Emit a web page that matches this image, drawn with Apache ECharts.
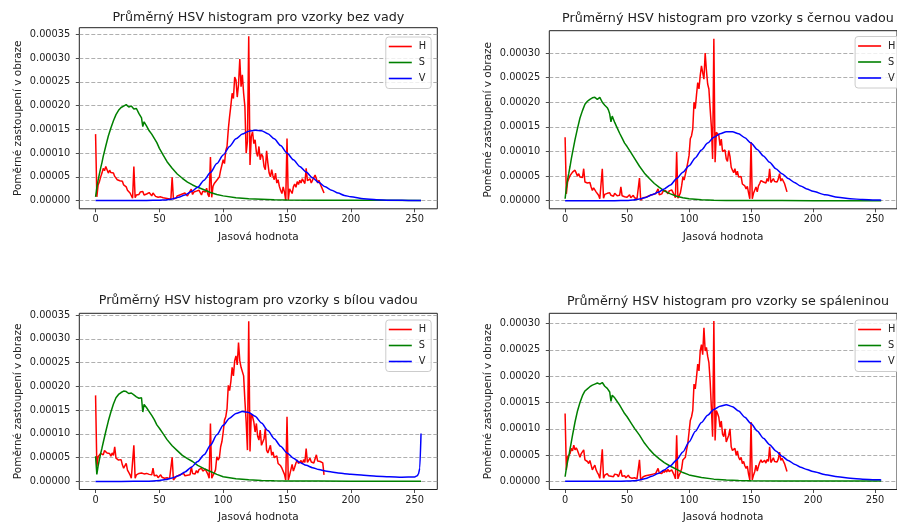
<!DOCTYPE html>
<html>
<head>
<meta charset="utf-8">
<script src="https://cdn.jsdelivr.net/npm/echarts@6/dist/echarts.min.js"></script>
<style>
  html, body { margin: 0; padding: 0; background: #fff; }
  #chart { width: 897px; height: 524px; }
</style>
</head>
<body>
<div id="chart"></div>
<script>
// Average HSV histograms (relative share of pixels per channel value).
// Values below are in units of 1e-5.

// Hue channel, values 0..179
const hueBezVady = [
  14.0, 0.8, 3.3, 4.0, 5.0, 5.8, 6.8, 6.3, 7.2, 6.5,
  5.8, 6.4, 5.9, 5.6, 5.8, 5.1, 5.4, 4.4, 4.8, 4.2,
  3.9, 4.1, 3.3, 3.6, 2.9, 2.2, 2.5, 1.6, 1.2, 0.5,
  7.2, 0.6, 1.2, 1.6, 1.3, 1.8, 1.4, 1.9, 1.2, 1.6,
  1.4, 1.1, 1.7, 1.3, 1.0, 1.6, 1.2, 0.9, 1.1, 0.7,
  1.0, 0.8, 1.2, 0.6, 0.9, 0.5, 0.8, 0.4, 0.7, 0.3,
  4.9, 0.4, 0.8, 0.5, 1.0, 0.7, 1.2, 0.9, 1.4, 1.0,
  1.6, 1.2, 1.0, 1.5, 1.1, 2.4, 1.3, 1.8, 1.4, 2.0,
  1.6, 2.2, 1.7, 1.2, 2.0, 2.4, 1.8, 2.6, 1.3, 0.8,
  9.2, 0.7, 3.0, 3.6, 3.2, 4.3, 4.0, 5.0, 6.4, 7.5,
  8.6, 7.8, 10.5, 11.4, 15.0, 17.7, 20.0, 22.6, 21.5, 26.0,
  25.4, 21.8, 24.4, 29.8, 24.0, 26.5, 22.6, 19.8, 10.0, 12.5,
  34.6, 7.5, 13.5, 14.5, 12.0, 12.8, 10.2, 9.3, 11.4, 8.6,
  9.8, 9.3, 7.2, 6.5, 10.5, 7.9, 5.8, 5.0, 6.5, 5.2,
  4.4, 5.8, 3.7, 4.4, 3.0, 2.2, 1.5, 2.9, 1.8, 0.1,
  13.1, 0.1, 2.5, 2.2, 1.5, 2.9, 3.5, 2.8, 4.0, 3.4,
  4.3, 3.7, 4.6, 4.4, 3.6, 6.8, 4.2, 3.8, 4.6, 3.7,
  4.3, 4.0, 5.4, 4.6, 3.7, 4.3, 3.5, 2.9, 3.3, 1.6
];
const hueCernaVada = [
  12.9, 1.4, 3.8, 4.5, 5.1, 5.1, 5.8, 5.4, 6.2, 5.6,
  5.0, 5.5, 4.8, 5.1, 4.7, 6.5, 3.8, 4.2, 3.6, 3.4,
  3.7, 2.8, 2.1, 2.6, 2.5, 1.8, 1.4, 1.1, 0.4, 0.6,
  6.5, 0.5, 1.3, 1.0, 1.5, 1.2, 1.6, 1.1, 1.3, 0.9,
  1.5, 1.2, 1.0, 1.4, 1.1, 2.8, 1.0, 1.2, 0.8, 1.1,
  0.7, 1.0, 1.2, 0.6, 0.9, 1.1, 0.6, 0.8, 0.4, 0.7,
  4.6, 0.1, 0.4, 0.6, 0.3, 0.7, 0.5, 0.9, 0.7, 1.1,
  0.8, 1.3, 1.0, 1.4, 1.1, 2.4, 1.2, 1.6, 1.4, 1.9,
  1.5, 2.1, 1.7, 1.4, 2.0, 1.6, 2.2, 1.8, 1.2, 0.6,
  9.9, 0.5, 1.0, 1.6, 3.0, 4.8, 4.2, 4.6, 6.5, 7.8,
  9.2, 12.6, 13.2, 14.6, 20.0, 18.7, 21.5, 24.0, 22.7, 25.4,
  27.4, 26.0, 24.7, 30.0, 26.5, 23.7, 22.7, 18.7, 15.0, 8.5,
  32.9, 7.8, 13.9, 14.2, 13.3, 11.2, 12.5, 10.0, 9.9, 10.3,
  8.5, 8.0, 10.2, 9.0, 6.8, 6.2, 5.7, 6.5, 5.2, 6.0,
  4.8, 4.5, 4.9, 3.4, 3.8, 3.0, 2.4, 2.9, 1.6, 0.4,
  11.9, 0.4, 1.5, 1.8, 2.8, 1.8, 3.0, 3.5, 4.1, 3.7,
  3.8, 4.2, 3.6, 4.5, 3.9, 6.5, 3.7, 3.8, 4.5, 3.9,
  4.2, 3.8, 4.4, 5.5, 4.0, 4.5, 4.1, 3.5, 3.8, 1.8
];
const hueBilaVada = [
  18.1, 3.1, 5.2, 4.8, 5.9, 6.3, 5.6, 6.5, 6.9, 6.0,
  6.4, 5.9, 5.3, 6.0, 5.5, 7.3, 4.9, 5.2, 4.5, 4.2,
  4.6, 3.5, 2.8, 3.2, 3.8, 2.4, 1.9, 1.4, 0.7, 1.0,
  7.6, 0.7, 1.4, 1.2, 1.7, 1.3, 1.8, 1.4, 1.6, 1.2,
  1.7, 1.3, 1.5, 1.1, 1.4, 2.8, 1.2, 0.9, 1.3, 0.8,
  1.1, 1.4, 0.9, 1.2, 0.7, 1.0, 0.8, 1.1, 0.6, 0.8,
  5.1, 0.3, 0.7, 1.0, 0.8, 1.3, 1.0, 1.5, 1.1, 1.7,
  1.2, 1.6, 1.3, 1.7, 1.4, 3.1, 1.7, 2.0, 1.6, 2.3,
  1.8, 2.5, 2.1, 2.8, 2.2, 1.9, 2.6, 2.4, 1.5, 0.7,
  12.2, 0.7, 1.3, 1.8, 2.5, 5.2, 4.5, 5.0, 7.3, 8.4,
  10.4, 12.9, 13.6, 15.3, 20.2, 19.1, 21.0, 24.0, 22.2, 25.4,
  26.4, 24.5, 29.2, 25.4, 24.0, 23.6, 22.2, 17.0, 12.5, 6.6,
  33.7, 6.3, 14.2, 13.6, 12.5, 10.4, 12.2, 9.5, 8.7, 10.8,
  7.6, 8.3, 9.0, 11.1, 6.6, 6.0, 6.3, 7.6, 5.5, 6.2,
  5.0, 4.9, 5.4, 3.8, 4.2, 3.3, 2.8, 3.2, 1.5, 0.3,
  13.6, 0.3, 1.3, 1.7, 3.6, 2.2, 3.0, 3.9, 4.5, 3.8,
  4.0, 4.4, 3.7, 4.6, 4.0, 6.9, 4.0, 4.2, 4.9, 4.1,
  4.5, 3.9, 4.8, 5.6, 4.3, 4.7, 4.2, 3.8, 3.9, 1.4
];
const hueSpalenina = [
  12.9, 2.2, 4.7, 4.5, 5.3, 6.3, 5.8, 6.9, 6.0, 6.4,
  5.9, 5.6, 4.6, 5.3, 5.0, 6.0, 4.1, 4.4, 3.8, 3.4,
  4.0, 3.1, 2.2, 2.7, 3.1, 2.2, 1.7, 1.3, 0.6, 0.9,
  6.1, 0.6, 1.2, 1.0, 1.5, 1.1, 1.4, 1.0, 1.3, 0.9,
  1.4, 1.1, 1.3, 0.9, 1.2, 2.2, 1.0, 0.8, 1.1, 0.7,
  1.0, 1.2, 0.8, 1.0, 0.6, 0.9, 0.7, 0.9, 0.5, 0.7,
  4.1, 0.3, 0.6, 0.9, 0.7, 1.1, 0.8, 1.2, 0.9, 1.3,
  1.0, 1.4, 1.1, 1.5, 1.2, 2.5, 1.6, 1.9, 1.5, 2.1,
  1.7, 2.2, 1.8, 2.3, 1.9, 1.6, 2.2, 2.0, 1.2, 0.5,
  8.8, 0.5, 1.2, 1.7, 2.4, 4.1, 4.1, 4.6, 6.0, 7.2,
  9.4, 11.6, 12.3, 13.5, 18.5, 17.6, 19.8, 22.3, 21.0, 24.8,
  26.0, 24.1, 29.2, 24.8, 25.5, 23.8, 22.6, 19.1, 14.0, 8.5,
  30.5, 7.8, 13.5, 12.9, 12.2, 10.3, 11.5, 9.0, 8.5, 10.0,
  7.5, 7.8, 8.8, 10.0, 6.6, 5.9, 6.1, 6.3, 5.0, 5.8,
  4.6, 4.1, 4.6, 3.4, 3.8, 3.0, 2.5, 2.9, 1.4, 0.3,
  11.3, 0.3, 1.2, 1.9, 3.1, 2.0, 2.9, 3.6, 4.1, 3.6,
  3.8, 4.0, 3.5, 4.2, 3.8, 6.6, 3.6, 3.9, 4.5, 3.8,
  4.1, 3.7, 4.3, 5.6, 4.0, 4.4, 3.9, 3.4, 3.6, 1.9
];

// Saturation channel, sampled at satX (0..255)
const satX = [0, 1, 2, 3, 4, 5, 6, 8, 10, 12, 14, 16, 18, 20, 22, 24, 26, 28, 30, 32,
  34, 35, 36, 37, 38, 40, 42, 44, 46, 48, 50, 53, 56, 60, 64, 68, 72, 76, 80, 85,
  90, 95, 100, 110, 120, 130, 140, 150, 175, 200, 225, 255];
const satBezVady = [0.8, 2.8, 4.3, 5.6, 6.9, 8.0, 9.3, 11.5, 13.6, 15.3, 16.8, 18.1, 19.0, 19.6, 19.9, 20.2, 19.7, 19.9, 19.3, 19.4,
  18.3, 18.0, 17.4, 15.6, 16.6, 15.7, 14.7, 14.0, 13.1, 12.2, 11.0, 9.6, 8.2, 6.8, 5.6, 4.7, 3.9, 3.3, 2.8, 2.3,
  1.7, 1.3, 1.0, 0.6, 0.4, 0.3, 0.2, 0.15, 0.1, 0.08, 0.06, 0.05];
const satCernaVada = [0.4, 2.6, 4.3, 5.6, 7.0, 8.5, 9.8, 12.4, 14.7, 16.8, 18.3, 19.6, 20.2, 20.6, 20.9, 21.0, 20.6, 21.0, 20.0, 19.4,
  18.9, 18.4, 17.6, 16.0, 17.2, 15.9, 14.8, 13.7, 12.7, 11.7, 11.0, 9.8, 8.6, 7.0, 5.6, 4.5, 3.5, 2.7, 2.0, 1.4,
  0.9, 0.6, 0.4, 0.2, 0.1, 0.07, 0.05, 0.04, 0.03, 0.02, 0.02, 0.02];
const satBilaVada = [5.3, 1.5, 3.3, 4.6, 5.9, 7.0, 8.2, 10.5, 12.7, 14.6, 16.3, 17.6, 18.3, 18.7, 19.0, 18.9, 18.5, 18.6, 18.2, 17.8,
  17.5, 17.3, 17.6, 14.6, 16.2, 15.5, 14.7, 13.9, 13.0, 11.9, 11.2, 10.0, 8.8, 7.5, 6.5, 5.5, 4.8, 4.2, 3.4, 2.7,
  2.1, 1.5, 1.0, 0.6, 0.35, 0.2, 0.15, 0.12, 0.1, 0.08, 0.08, 0.08];
const satSpalenina = [0.9, 2.5, 3.8, 4.8, 6.2, 7.5, 8.8, 11.3, 13.4, 15.0, 16.3, 17.2, 17.6, 18.0, 18.3, 18.5, 18.7, 18.5, 18.8, 18.1,
  17.7, 17.4, 17.0, 15.2, 16.4, 15.9, 15.2, 14.5, 13.7, 12.9, 12.3, 11.2, 10.1, 8.8, 7.3, 6.1, 5.1, 4.3, 3.6, 2.9,
  2.3, 1.7, 1.25, 0.75, 0.45, 0.3, 0.2, 0.14, 0.11, 0.1, 0.1, 0.1];

// Value channel, sampled at valX (0..255)
const valX = [0, 20, 40, 50, 55, 60, 65, 70, 75, 80, 85, 90, 95, 100, 105, 110, 115, 120, 125, 130,
  135, 140, 145, 150, 155, 160, 165, 170, 175, 180, 185, 190, 195, 200, 210, 220, 230, 240, 250, 252,
  253, 254, 255];
const valBezVady = [0.02, 0.02, 0.03, 0.08, 0.15, 0.35, 0.7, 1.2, 1.9, 2.8, 4.3, 5.9, 7.8, 9.6, 11.4, 13.0, 14.0, 14.6, 14.8, 14.7,
  14.1, 13.0, 11.6, 10.0, 8.6, 7.2, 6.0, 4.8, 3.8, 2.9, 2.2, 1.6, 1.1, 0.8, 0.4, 0.2, 0.1, 0.06, 0.04, 0.04,
  0.04, 0.04, 0.04];
const valCernaVada = [0.01, 0.01, 0.02, 0.06, 0.15, 0.35, 0.65, 1.2, 1.7, 2.4, 3.2, 4.5, 5.8, 7.1, 8.7, 10.3, 11.7, 12.9, 13.6, 14.0,
  14.0, 13.6, 12.8, 11.7, 10.4, 9.1, 7.8, 6.5, 5.5, 4.5, 3.7, 3.0, 2.4, 1.9, 1.2, 0.7, 0.4, 0.25, 0.15, 0.14,
  0.13, 0.13, 0.12];
const valBilaVada = [0.02, 0.02, 0.05, 0.2, 0.4, 0.75, 1.2, 2.0, 3.0, 4.2, 5.6, 7.6, 9.8, 11.8, 13.3, 14.3, 14.7, 14.5, 13.7, 12.3,
  10.7, 9.0, 7.4, 6.0, 4.9, 4.0, 3.4, 2.9, 2.5, 2.2, 2.0, 1.8, 1.65, 1.5, 1.3, 1.1, 1.0, 0.9, 0.95, 1.2,
  1.6, 2.8, 10.1];
const valSpalenina = [0.03, 0.03, 0.04, 0.08, 0.12, 0.28, 0.55, 1.0, 1.5, 2.2, 3.0, 4.1, 5.6, 7.5, 9.5, 11.2, 12.6, 13.7, 14.3, 14.6,
  14.2, 13.4, 12.2, 11.0, 9.6, 8.2, 7.0, 5.8, 4.8, 4.0, 3.3, 2.7, 2.3, 1.9, 1.3, 0.9, 0.6, 0.45, 0.35, 0.33,
  0.32, 0.32, 0.3];

// Axis ticks and labels
const xTicks = [0, 50, 100, 150, 200, 250];
const yTicksTall = [0, 0.00005, 0.0001, 0.00015, 0.0002, 0.00025, 0.0003, 0.00035];
const yTicksShort = [0, 0.00005, 0.0001, 0.00015, 0.0002, 0.00025, 0.0003];
const channelNames = ['H', 'S', 'V'];
const channelColors = ['#ff0000', '#008000', '#0000ff'];
const titles = [
  'Průměrný HSV histogram pro vzorky bez vady',
  'Průměrný HSV histogram pro vzorky s černou vadou',
  'Průměrný HSV histogram pro vzorky s bílou vadou',
  'Průměrný HSV histogram pro vzorky se spáleninou'
];
const xName = 'Jasová hodnota';
const yName = 'Poměrné zastoupení v obraze';

const UNIT = 1e-5;
const FONT = 'DejaVu Sans';
const TEXT = '#222';

const panels = [
  { hue: hueBezVady,   sat: satBezVady,   val: valBezVady,   yTicks: yTicksTall,  yMin: -0.0000172, yMax: 0.000364,
    grid: { left: 79.3, top: 27.7, width: 358, height: 181.1 }, titleTop: 11.5, legendTop: 37 },
  { hue: hueCernaVada, sat: satCernaVada, val: valCernaVada, yTicks: yTicksShort, yMin: -0.0000164, yMax: 0.0003453,
    grid: { left: 549.3, top: 30.7, width: 357.3, height: 178.1 }, titleTop: 12.5, legendTop: 36.5 },
  { hue: hueBilaVada,  sat: satBilaVada,  val: valBilaVada,  yTicks: yTicksTall,  yMin: -0.0000168, yMax: 0.0003535,
    grid: { left: 79.3, top: 313.3, width: 358, height: 178.7 }, titleTop: 294, legendTop: 320 },
  { hue: hueSpalenina, sat: satSpalenina, val: valSpalenina, yTicks: yTicksShort, yMin: -0.0000152, yMax: 0.0003195,
    grid: { left: 549.3, top: 313.3, width: 357.3, height: 178.7 }, titleTop: 295, legendTop: 320 }
];

const option = {
  animation: false,
  backgroundColor: '#fff',
  title: [], grid: [], xAxis: [], yAxis: [], legend: [], series: []
};

panels.forEach((p, i) => {
  const g = p.grid;
  option.grid.push({
    left: g.left, top: g.top, width: g.width, height: g.height,
    show: true, borderColor: '#222', borderWidth: 1, backgroundColor: 'transparent', containLabel: false
  });
  option.title.push({
    text: titles[i], left: g.left + g.width / 2, top: p.titleTop, textAlign: 'center', padding: 0,
    textStyle: { fontFamily: FONT, fontSize: 12.7, fontWeight: 'normal', color: TEXT }
  });
  option.xAxis.push({
    type: 'value', gridIndex: i, min: -12.75, max: 267.75,
    axisLine: { show: false, onZero: false },
    axisTick: { show: true, customValues: xTicks, length: 3.5, lineStyle: { color: '#222', width: 0.8 } },
    axisLabel: { customValues: xTicks, margin: 6, fontFamily: FONT, fontSize: 9.8, color: TEXT },
    splitLine: { show: false },
    name: xName, nameLocation: 'middle', nameGap: 22.5,
    nameTextStyle: { fontFamily: FONT, fontSize: 10.5, color: TEXT }
  });
  option.yAxis.push({
    type: 'value', gridIndex: i, min: p.yMin, max: p.yMax,
    axisLine: { show: false, onZero: false },
    axisTick: { show: true, customValues: p.yTicks, length: 3.5, lineStyle: { color: '#222', width: 0.8 } },
    axisLabel: { customValues: p.yTicks, margin: 9, fontFamily: FONT, fontSize: 9.8, color: TEXT,
      formatter: v => v.toFixed(5) },
    splitLine: { show: true, lineStyle: { color: '#9a9a9a', width: 0.8, type: [4, 2] } },
    name: yName, nameLocation: 'middle', nameGap: 56, nameRotate: 90,
    nameTextStyle: { fontFamily: FONT, fontSize: 10.5, color: TEXT }
  });
  option.legend.push({
    data: channelNames, orient: 'vertical', left: g.left + g.width - 51.5, top: p.legendTop,
    icon: 'rect', itemWidth: 23, itemHeight: 1.6, itemGap: 4,
    padding: [3.5, 5, 4, 3], backgroundColor: 'rgba(255,255,255,0.8)',
    borderColor: '#cccccc', borderWidth: 1, borderRadius: 3,
    textStyle: { fontFamily: FONT, fontSize: 9.8, color: TEXT, lineHeight: 12, padding: [0, 0, 0, 2] },
    selectedMode: false
  });

  const curves = [
    p.hue.map((v, x) => [x, v * UNIT]),
    satX.map((x, k) => [x, p.sat[k] * UNIT]),
    valX.map((x, k) => [x, p.val[k] * UNIT])
  ];
  curves.forEach((data, c) => {
    option.series.push({
      type: 'line', name: channelNames[c], xAxisIndex: i, yAxisIndex: i,
      data: data, symbol: 'none', showSymbol: false,
      smooth: c === 2 ? 0.25 : false, smoothMonotone: 'x',
      color: channelColors[c],
      lineStyle: { color: channelColors[c], width: 1.5 },
      emphasis: { disabled: true }, silent: true, z: 2 + c
    });
  });
});

const chart = echarts.init(document.getElementById('chart'), null, { renderer: 'canvas' });
chart.setOption(option);
</script>
</body>
</html>
